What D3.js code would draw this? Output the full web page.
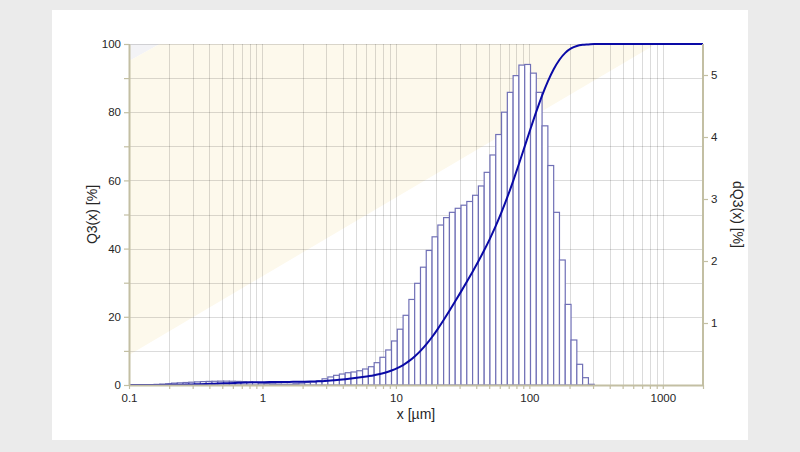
<!DOCTYPE html>
<html>
<head>
<meta charset="utf-8">
<script src="https://cdn.jsdelivr.net/npm/d3@7"></script>
<style>
  html, body { margin: 0; padding: 0; background: #ebebeb; }
  svg { display: block; font-family: "Liberation Sans", Arial, sans-serif; }
</style>
</head>
<body>
<svg id="chart" width="800" height="452"></svg>
<script>
// ---- data ----
// lower edges of the size classes (µm); last value = upper edge of the last class
const binEdges = [
  0.1542, 0.1704, 0.1883, 0.2081, 0.2300, 0.2542, 0.2809, 0.3104, 0.3430, 0.3790,
  0.4188, 0.4628, 0.5114, 0.5652, 0.6246, 0.6902, 0.7627, 0.8428, 0.9314, 1.029,
  1.137, 1.257, 1.389, 1.535, 1.696, 1.875, 2.072, 2.289, 2.530, 2.796,
  3.090, 3.414, 3.773, 4.169, 4.607, 5.091, 5.626, 6.218, 6.871, 7.593,
  8.390, 9.271, 10.24, 11.32, 12.51, 13.82, 15.28, 16.88, 18.66, 20.62,
  22.78, 25.18, 27.82, 30.75, 33.98, 37.55, 41.50, 45.86, 50.67, 56.00,
  61.87, 68.38, 75.56, 83.50, 92.28, 102.0, 112.7, 124.5, 137.6, 152.1,
  168.1, 185.7, 205.2, 226.8, 250.6, 277.0, 306.1
];
// dQ3 per class (%)
const dQ3 = [
  0.01, 0.015, 0.02, 0.03, 0.035, 0.04, 0.045, 0.05, 0.055, 0.058,
  0.06, 0.062, 0.062, 0.06, 0.058, 0.055, 0.05, 0.04, 0.03, 0.025,
  0.02, 0.015, 0.012, 0.012, 0.02, 0.03, 0.04, 0.05, 0.069, 0.10,
  0.13, 0.156, 0.177, 0.198, 0.21, 0.23, 0.258, 0.295, 0.36, 0.447,
  0.565, 0.71, 0.90, 1.124, 1.38, 1.64, 1.90, 2.17, 2.39, 2.58,
  2.70, 2.785, 2.85, 2.90, 2.96, 3.06, 3.21, 3.43, 3.71, 4.04,
  4.40, 4.72, 4.99, 5.16, 5.17, 5.03, 4.72, 4.18, 3.54, 2.785,
  2.016, 1.30, 0.726, 0.334, 0.118, 0.011
];
// Q3 (cumulative %) at the upper edge of each class
const Q3 = [
  0.01, 0.03, 0.05, 0.08, 0.11, 0.15, 0.20, 0.25, 0.30, 0.36,
  0.42, 0.48, 0.54, 0.60, 0.66, 0.72, 0.77, 0.81, 0.84, 0.86,
  0.88, 0.90, 0.91, 0.92, 0.94, 0.97, 1.01, 1.06, 1.13, 1.23,
  1.36, 1.51, 1.69, 1.89, 2.10, 2.33, 2.59, 2.88, 3.24, 3.69,
  4.25, 4.96, 5.86, 6.99, 8.37, 10.01, 11.91, 14.08, 16.47, 19.05,
  21.75, 24.53, 27.38, 30.28, 33.24, 36.30, 39.51, 42.94, 46.65, 50.69,
  55.09, 59.81, 64.80, 69.96, 75.13, 80.16, 84.88, 89.06, 92.60, 95.39,
  97.40, 98.70, 99.43, 99.76, 99.88, 100
];
const xTickValues = [0.1, 1, 10, 100, 1000];
const xTickLabels = ["0.1", "1", "10", "100", "1000"];
const yLeftLabels = [0, 20, 40, 60, 80, 100];
const yRightLabels = [1, 2, 3, 4, 5];
const xTitle = "x [µm]";
const yLeftTitle = "Q3(x) [%]";
const yRightTitle = "dQ3(x) [%]";

// ---- layout ----
const svg = d3.select("#chart");
const L = 129, R = 703, T = 44, B = 385;
const axisColor = "#c3bfa3";
const textColor = "#262626";

svg.append("rect").attr("x", 52).attr("y", 10).attr("width", 696).attr("height", 430).attr("fill", "#ffffff");

const x = d3.scaleLog().domain([0.1, 2000]).range([L, R]);
const yL = d3.scaleLinear().domain([0, 100]).range([B, T]);
const yR = d3.scaleLinear().domain([0, 5.5]).range([B, T]);

// clip
svg.append("clipPath").attr("id", "plotclip")
  .append("rect").attr("x", L).attr("y", T).attr("width", R - L).attr("height", B - T);

const bg = svg.append("g").attr("clip-path", "url(#plotclip)");
bg.append("rect").attr("x", L).attr("y", T).attr("width", R - L).attr("height", B - T).attr("fill", "#ffffff");
// diagonal background band
const bandUpper = [[x(0.1), yL(95)], [x(0.17), yL(100)]];
const bandLower = [[x(0.1), yL(8.8)], [x(889), yL(100)]];
bg.append("polygon")
  .attr("points", [[L, T], bandUpper[1], bandUpper[0]].map(p => p.join(",")).join(" "))
  .attr("fill", "#f3f3f6");
bg.append("polygon")
  .attr("points", [bandUpper[0], bandUpper[1], bandLower[1], bandLower[0]].map(p => p.join(",")).join(" "))
  .attr("fill", "#fdf9ec");

// grid
const grid = svg.append("g");
const vTicks = x.ticks();
grid.selectAll("line.v").data(vTicks).join("line")
  .attr("x1", d => Math.round(x(d)) + 0.5).attr("x2", d => Math.round(x(d)) + 0.5)
  .attr("y1", T).attr("y2", B)
  .attr("stroke", "#000").attr("stroke-opacity", 0.14).attr("stroke-width", 1);
const hTicks = d3.range(10, 101, 10);
grid.selectAll("line.h").data(hTicks).join("line")
  .attr("x1", L).attr("x2", R)
  .attr("y1", d => Math.round(yL(d)) + 0.5).attr("y2", d => Math.round(yL(d)) + 0.5)
  .attr("stroke", "#000").attr("stroke-opacity", 0.14).attr("stroke-width", 1);

// bars
const bars = dQ3.map((v, i) => ({ x0: binEdges[i], x1: binEdges[i + 1], v }));
svg.append("g").selectAll("rect").data(bars).join("rect")
  .attr("x", d => x(d.x0))
  .attr("width", d => x(d.x1) - x(d.x0))
  .attr("y", d => yR(d.v))
  .attr("height", d => B - yR(d.v))
  .attr("fill", "#ffffff")
  .attr("stroke", "#7070b6")
  .attr("stroke-width", 1.2);

// cumulative curve
const curvePts = [[0.1, 0], [binEdges[0], 0]]
  .concat(Q3.map((q, i) => [binEdges[i + 1], q]))
  .concat([[2000, 100]]);
svg.append("path")
  .datum(curvePts)
  .attr("fill", "none")
  .attr("stroke", "#0a0aa6")
  .attr("stroke-width", 2)
  .attr("d", d3.line().x(d => x(d[0])).y(d => yL(d[1])).curve(d3.curveMonotoneX));

// axes
function styleAxis(g) {
  g.select(".domain").attr("stroke", axisColor).attr("stroke-width", 2);
  g.selectAll(".tick line").attr("stroke", axisColor).attr("stroke-width", 1.2);
  g.selectAll(".tick text").attr("fill", textColor).style("font-size", "11.5px")
    .style("font-family", "'Liberation Sans', Arial, sans-serif");
}
const xAxis = d3.axisBottom(x).tickValues(vTicks).tickSize(4).tickSizeOuter(0)
  .tickFormat(d => { const i = xTickValues.indexOf(+d.toPrecision(6)); return i >= 0 ? xTickLabels[i] : ""; });
svg.append("g").attr("transform", `translate(0,${B})`).call(xAxis).call(styleAxis)
  .selectAll(".tick text").attr("dy", "0.85em");

const yLeftAxis = d3.axisLeft(yL).tickValues(d3.range(0, 101, 10)).tickSize(5).tickSizeOuter(0)
  .tickFormat(d => yLeftLabels.includes(d) ? String(d) : "");
svg.append("g").attr("transform", `translate(${L},0)`).call(yLeftAxis).call(styleAxis);

const yRightAxis = d3.axisRight(yR).tickValues(yRightLabels).tickSize(5).tickSizeOuter(0)
  .tickFormat(d => String(d));
const gR = svg.append("g").attr("transform", `translate(${R},0)`).call(yRightAxis).call(styleAxis);
gR.select(".domain").attr("d", `M0,${T}V${B}`);

// titles
svg.append("text").attr("x", (L + R) / 2).attr("y", 419).attr("text-anchor", "middle")
  .attr("fill", textColor).style("font-size", "14px").text(xTitle);
svg.append("text").attr("transform", `translate(97,${(T + B) / 2}) rotate(-90)`).attr("text-anchor", "middle")
  .attr("fill", textColor).style("font-size", "14px").text(yLeftTitle);
svg.append("text").attr("transform", `translate(733,${(T + B) / 2}) rotate(90)`).attr("text-anchor", "middle")
  .attr("fill", textColor).style("font-size", "14px").text(yRightTitle);
</script>
</body>
</html>
